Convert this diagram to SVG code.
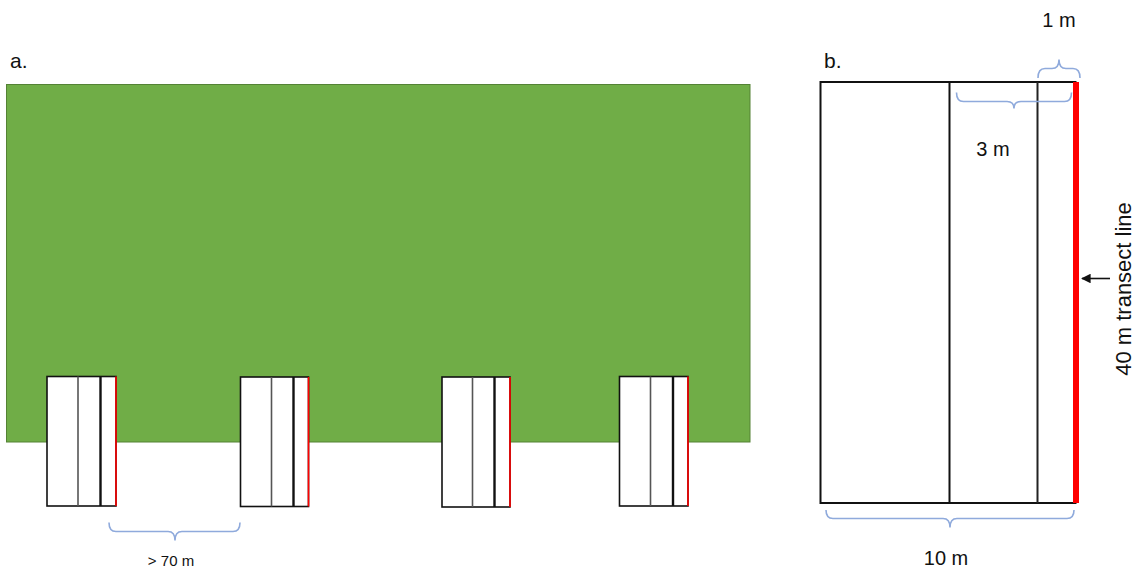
<svg xmlns="http://www.w3.org/2000/svg" width="1143" height="571" viewBox="0 0 1143 571">
<defs>
<style>
text{font-family:"Liberation Sans",Arial,sans-serif;fill:#111}
.plot{fill:#fff;stroke:#111;stroke-width:1.6}
.thin{stroke:#555;stroke-width:1.6}
.thick{stroke:#111;stroke-width:2.4}
.red{stroke:#f00;stroke-width:1.6}
.brace{fill:none;stroke:#8FAADC;stroke-width:1.6}
</style>
<marker id="ah" viewBox="0 0 10 10" refX="9" refY="5" markerWidth="6" markerHeight="6" orient="auto" markerUnits="strokeWidth">
<path d="M0,0 L10,5 L0,10 z" fill="#111"/>
</marker>
</defs>
<rect width="1143" height="571" fill="#fff"/>
<g id="panel-a">
<text x="10" y="68" font-size="21">a.</text>
<rect id="forest" x="6.5" y="84.5" width="743.5" height="357.5" fill="#70AD47" stroke="#548235" stroke-width="1"/>
<g id="plot1">
<rect class="plot" x="47" y="376.5" width="69" height="129.5"/>
<line class="thin" x1="78" y1="376.5" x2="78" y2="506"/>
<line class="thick" x1="100.5" y1="376.5" x2="100.5" y2="506"/>
<line class="red" x1="116" y1="376.5" x2="116" y2="506"/>
</g>
<g id="plot2">
<rect class="plot" x="240.5" y="377" width="68" height="129.5"/>
<line class="thin" x1="271.5" y1="377" x2="271.5" y2="506.5"/>
<line class="thick" x1="293.5" y1="377" x2="293.5" y2="506.5"/>
<line class="red" x1="308.5" y1="377" x2="308.5" y2="506.5"/>
</g>
<g id="plot3">
<rect class="plot" x="442" y="377" width="68" height="130"/>
<line class="thin" x1="472.5" y1="377" x2="472.5" y2="507"/>
<line class="thick" x1="494.5" y1="377" x2="494.5" y2="507"/>
<line class="red" x1="510" y1="377" x2="510" y2="507"/>
</g>
<g id="plot4">
<rect class="plot" x="619.5" y="376.5" width="68.5" height="129.5"/>
<line class="thin" x1="650.5" y1="376.5" x2="650.5" y2="506"/>
<line class="thick" x1="673" y1="376.5" x2="673" y2="506"/>
<line class="red" x1="688" y1="376.5" x2="688" y2="506"/>
</g>
<path class="brace" d="M109,522.5 Q109,531.5 116,531.5 L168,531.5 Q175,531.5 175,540.5 Q175,531.5 182,531.5 L233,531.5 Q240,531.5 240,522.5"/>
<text x="171" y="566" font-size="15" text-anchor="middle">&gt; 70 m</text>
</g>
<g id="panel-b">
<text x="824" y="68" font-size="21">b.</text>
<g id="plot-detail">
<rect x="820.5" y="82" width="255" height="421" fill="#fff" stroke="#111" stroke-width="2"/>
<line x1="949.5" y1="82" x2="949.5" y2="503" stroke="#111" stroke-width="2"/>
<line x1="1037.5" y1="82" x2="1037.5" y2="503" stroke="#222" stroke-width="2"/>
<line x1="1076" y1="82" x2="1076" y2="503" stroke="#f00" stroke-width="6"/>
</g>
<path class="brace" d="M1038,78 Q1038,68.5 1045,68.5 L1052,68.5 Q1059,68.5 1059,59.5 Q1059,68.5 1066,68.5 L1073,68.5 Q1080,68.5 1080,78"/>
<text x="1059" y="27" font-size="20" text-anchor="middle">1 m</text>
<path class="brace" d="M956.5,92.5 Q956.5,101.5 963.5,101.5 L1007,101.5 Q1014,101.5 1014,108.5 Q1014,101.5 1021,101.5 L1064.5,101.5 Q1071.5,101.5 1071.5,92.5"/>
<text x="993" y="156" font-size="20" text-anchor="middle">3 m</text>
<path class="brace" d="M826,510 Q826,518.5 833,518.5 L943,518.5 Q950,518.5 950,527.5 Q950,518.5 957,518.5 L1067,518.5 Q1074,518.5 1074,510"/>
<text x="946" y="565" font-size="20" text-anchor="middle">10 m</text>
<line id="transect-arrow" x1="1110" y1="278.5" x2="1082" y2="278.5" stroke="#111" stroke-width="1.6" marker-end="url(#ah)"/>
<text transform="translate(1131,289) rotate(-90)" font-size="22" text-anchor="middle">40 m transect line</text>
</g>
</svg>
